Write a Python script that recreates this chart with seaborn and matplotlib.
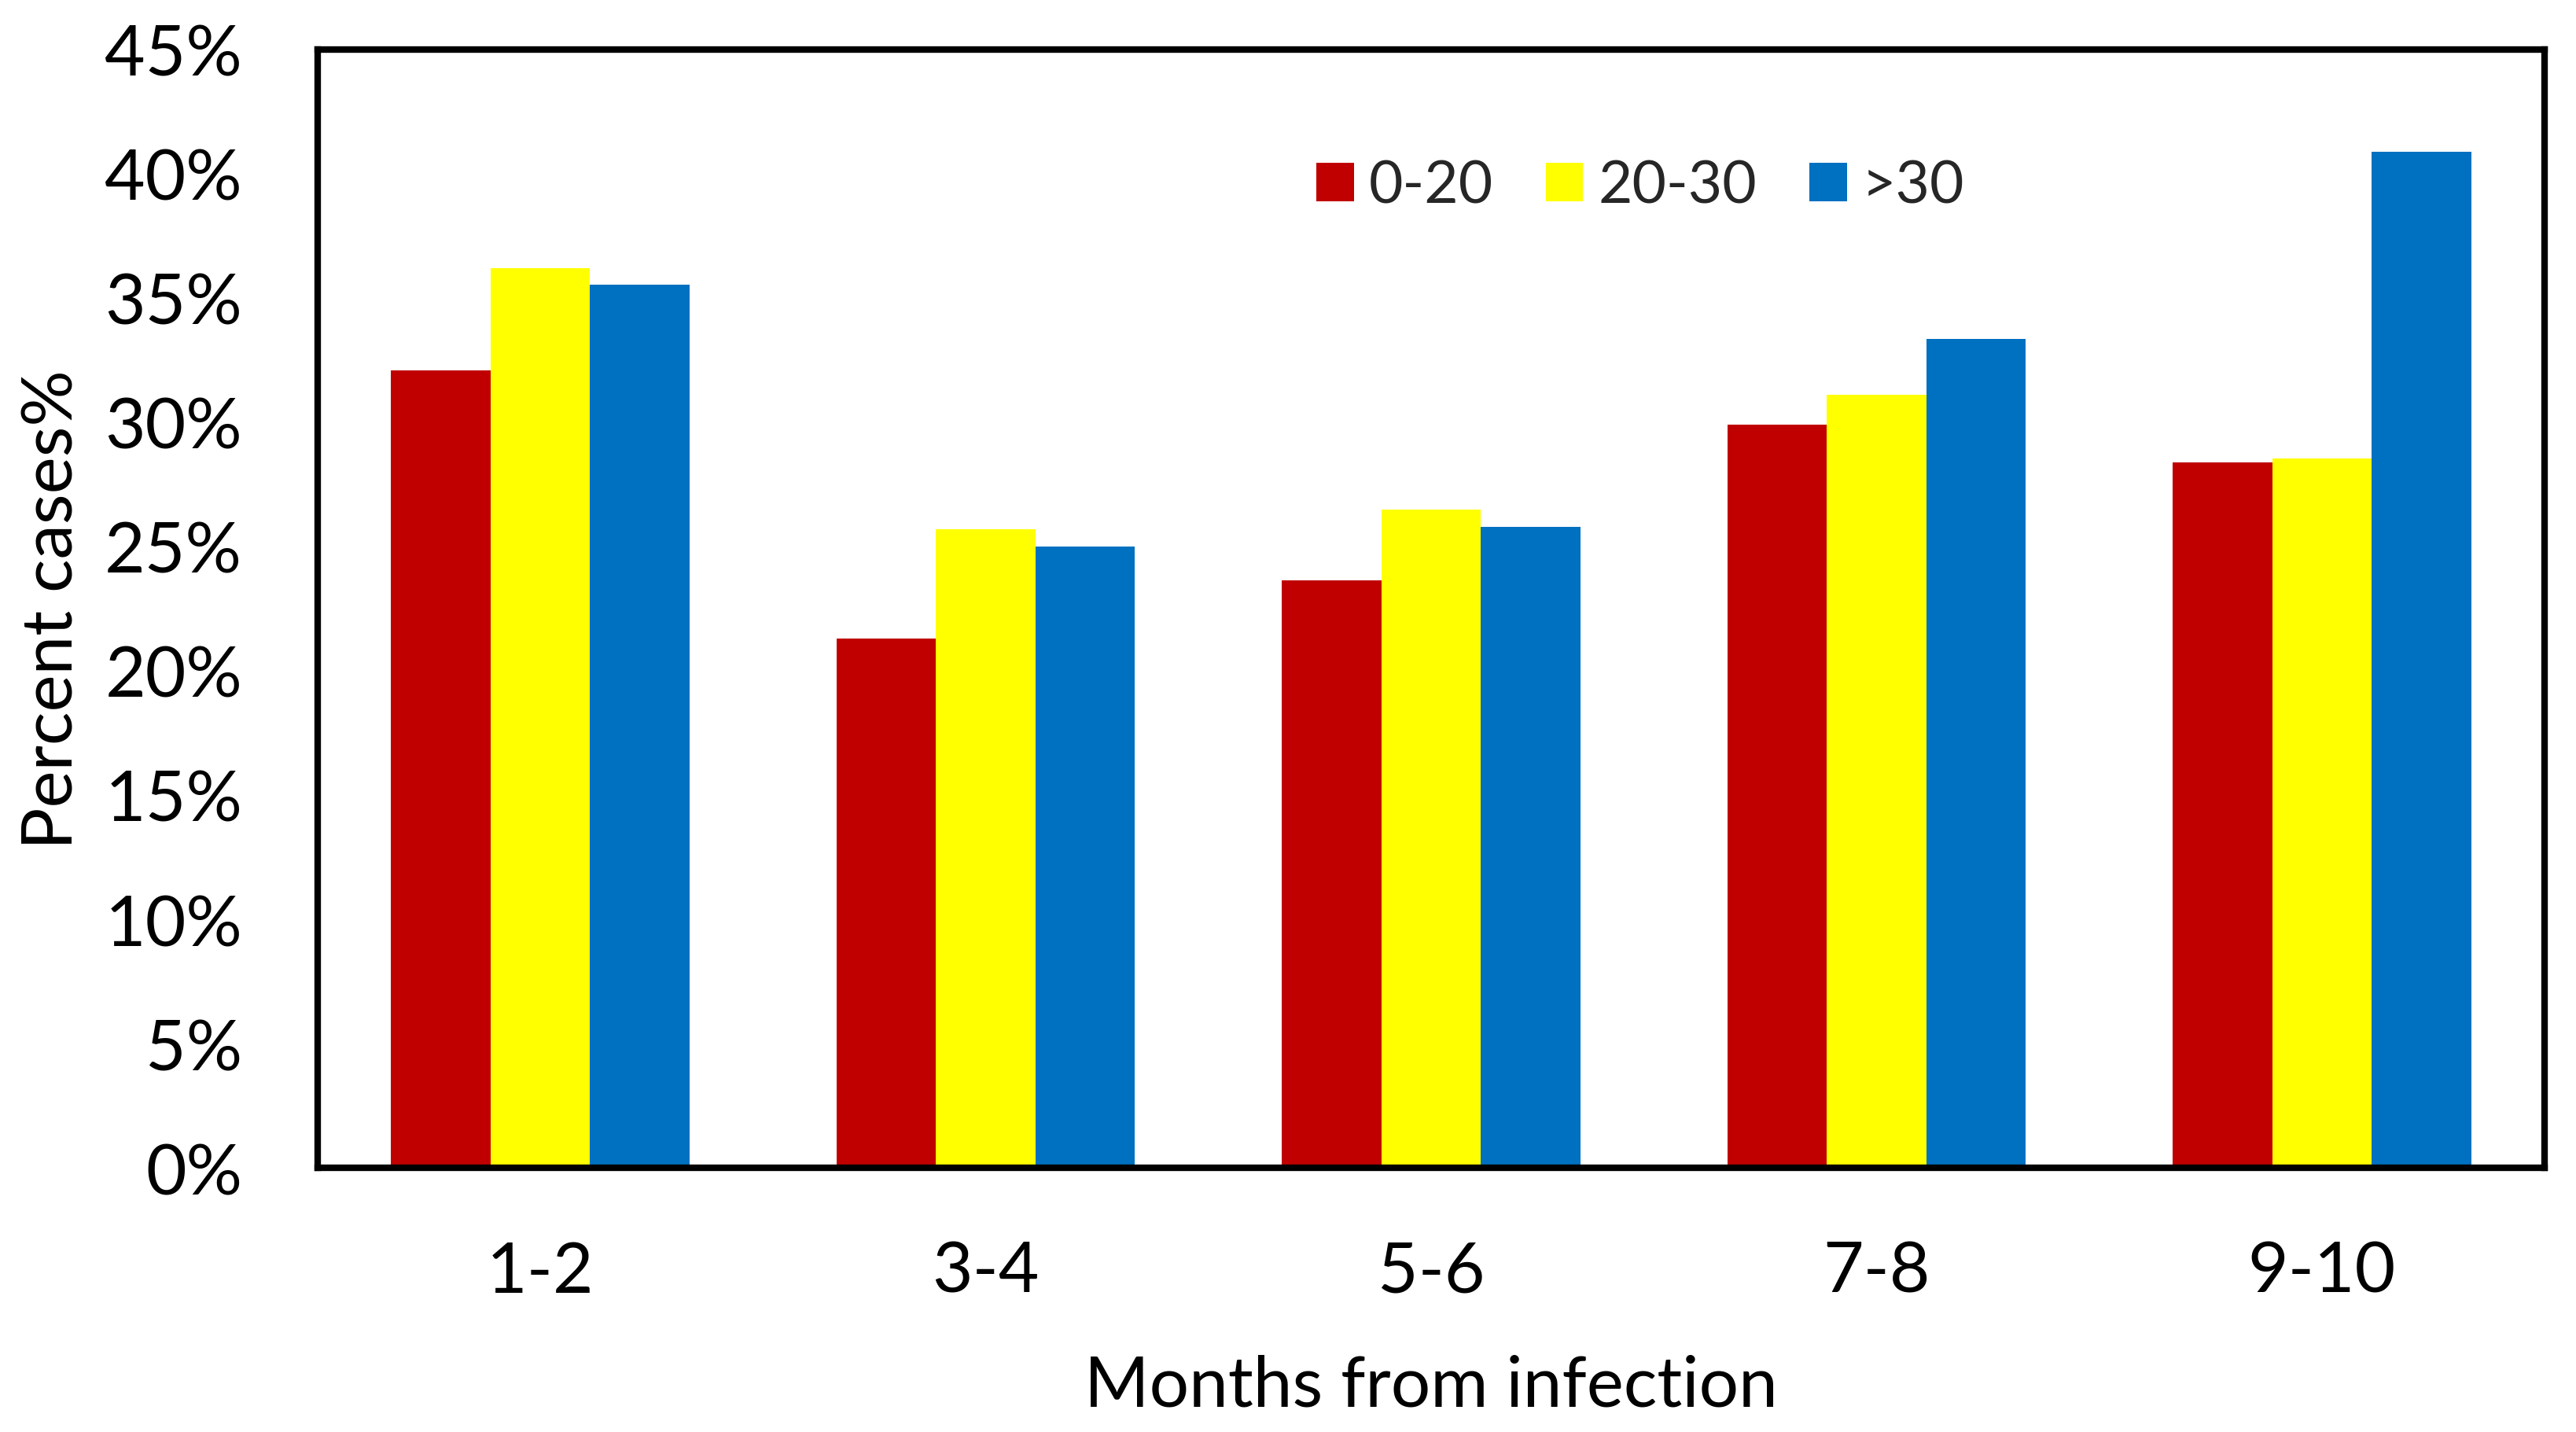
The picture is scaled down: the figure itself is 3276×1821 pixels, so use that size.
import pandas as pd
import seaborn as sns
import matplotlib.pyplot as plt
from matplotlib.ticker import FuncFormatter, MultipleLocator

months = ['1-2', '3-4', '5-6', '7-8', '9-10']
groups = ['0-20', '20-30', '>30']
pct_0_20 = [32.1, 21.3, 23.65, 29.9, 28.4]
pct_20_30 = [36.2, 25.7, 26.5, 31.1, 28.55]
pct_over_30 = [35.55, 25.0, 25.8, 33.35, 40.9]
colors = ['#C00000', '#FFFF00', '#0070C0']

df = pd.DataFrame({
    'month': months * 3,
    'group': [g for g in groups for _ in months],
    'pct': pct_0_20 + pct_20_30 + pct_over_30,
})

sns.set_theme(style='white')
plt.rcParams['font.family'] = ['Lato', 'DejaVu Sans']

fig = plt.figure(figsize=(10.92, 6.0733), dpi=300)
ax = fig.add_axes([0.1233, 0.1844, 0.8645, 0.7805])

sns.barplot(data=df, x='month', y='pct', hue='group', order=months,
            hue_order=groups, palette=colors, saturation=1, width=0.67,
            errorbar=None, linewidth=0, ax=ax)

ax.set_xlim(-0.5, 4.5)
ax.set_ylim(0, 45)
ax.yaxis.set_major_locator(MultipleLocator(5))
ax.yaxis.set_major_formatter(FuncFormatter(lambda v, p: f'{v:.0f}%'))

for sp in ax.spines.values():
    sp.set_visible(True)
    sp.set_color('black')
    sp.set_linewidth(2.0)

ax.tick_params(axis='both', length=0, labelsize=21.4, colors='black')
ax.tick_params(axis='y', pad=23)
ax.tick_params(axis='x', pad=22)
ax.set_xlabel('Months from infection', fontsize=21.4, labelpad=15, color='black')
ax.set_ylabel('Percent cases%', fontsize=21.4, labelpad=6, color='black')

handles, labels = ax.get_legend_handles_labels()
ax.legend(handles, labels, loc='center', bbox_to_anchor=(0.594, 0.878),
          ncol=3, frameon=False, fontsize=18, handlelength=0.63,
          handleheight=0.63, handletextpad=0.25, columnspacing=0.9,
          borderpad=0)

fig.savefig('out.png', dpi=300, facecolor='white')
